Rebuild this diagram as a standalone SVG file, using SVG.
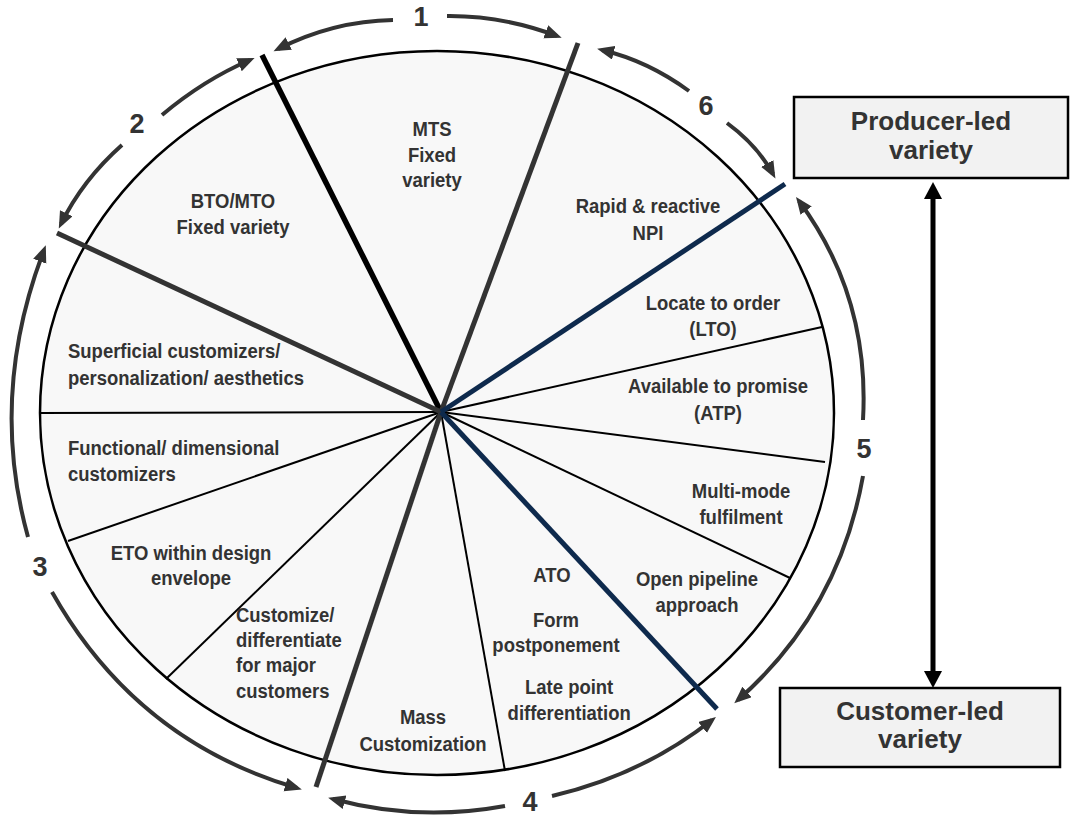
<svg xmlns="http://www.w3.org/2000/svg" width="1071" height="819" viewBox="0 0 1071 819">
<defs>
<style>
.t{font-family:"Liberation Sans",Arial,sans-serif;font-weight:bold;font-size:21px;fill:#333}
.m{text-anchor:middle}
.n{font-family:"Liberation Sans",Arial,sans-serif;font-weight:bold;font-size:27px;fill:#333;text-anchor:middle}
.b{font-family:"Liberation Sans",Arial,sans-serif;font-weight:bold;font-size:26px;fill:#333;text-anchor:middle}
.arc{fill:none;stroke:#333;stroke-width:4;marker-end:url(#ah)}
.thin{stroke:#000;stroke-width:2}
.thick{stroke:#333;stroke-width:5}
.black{stroke:#000;stroke-width:5.5}
.navy{stroke:#0e2a4d;stroke-width:5}
.box{fill:#f2f2f2;stroke:#000;stroke-width:2.5}
</style>
<marker id="ah" markerUnits="userSpaceOnUse" markerWidth="18" markerHeight="15" refX="12" refY="7" orient="auto"><path d="M0,0 L17,7 L0,14 z" fill="#333"/></marker>
<marker id="bh" markerUnits="userSpaceOnUse" markerWidth="18" markerHeight="18" refX="5" refY="9" orient="auto-start-reverse"><path d="M0,0 L17,9 L0,18 z" fill="#000"/></marker>
</defs>
<rect width="1071" height="819" fill="#fff"/>

<g id="wheel">
<ellipse cx="437" cy="413" rx="397" ry="362" fill="#f8f8f8" stroke="#000" stroke-width="2.5"/>
<line class="thin" x1="441" y1="412" x2="822" y2="327"/>
<line class="thin" x1="441" y1="412" x2="825" y2="462"/>
<line class="thin" x1="441" y1="412" x2="790" y2="578"/>
<line class="thin" x1="441" y1="412" x2="505" y2="771"/>
<line class="thin" x1="441" y1="412" x2="166" y2="679"/>
<line class="thin" x1="441" y1="412" x2="68" y2="541"/>
<line class="thin" x1="441" y1="412" x2="39" y2="413"/>
<line class="black" x1="441" y1="412" x2="262" y2="55"/>
<line class="thick" x1="441" y1="412" x2="578" y2="43"/>
<line class="thick" x1="441" y1="412" x2="57" y2="233"/>
<line class="thick" x1="441" y1="412" x2="316" y2="787"/>
<line class="navy" x1="441" y1="412" x2="785" y2="184"/>
<line class="navy" x1="441" y1="412" x2="717" y2="709"/>
</g>

<g id="seg-mts"><text class="t m" transform="translate(432 0) scale(0.88 1)"><tspan x="0" y="136">MTS</tspan><tspan x="0" y="162">Fixed</tspan><tspan x="0" y="187">variety</tspan></text></g>
<g id="seg-bto"><text class="t m" transform="translate(233 0) scale(0.88 1)"><tspan x="0" y="208">BTO/MTO</tspan><tspan x="0" y="234">Fixed variety</tspan></text></g>
<g id="seg-npi"><text class="t m" transform="translate(648 0) scale(0.88 1)"><tspan x="0" y="213">Rapid &amp; reactive</tspan><tspan x="0" y="240">NPI</tspan></text></g>
<g id="seg-lto"><text class="t m" transform="translate(713 0) scale(0.88 1)"><tspan x="0" y="310">Locate to order</tspan><tspan x="0" y="336">(LTO)</tspan></text></g>
<g id="seg-atp"><text class="t m" transform="translate(718 0) scale(0.88 1)"><tspan x="0" y="393">Available to promise</tspan><tspan x="0" y="420">(ATP)</tspan></text></g>
<g id="seg-multi"><text class="t m" transform="translate(741 0) scale(0.88 1)"><tspan x="0" y="498">Multi-mode</tspan><tspan x="0" y="524">fulfilment</tspan></text></g>
<g id="seg-open"><text class="t m" transform="translate(697 0) scale(0.88 1)"><tspan x="0" y="586">Open pipeline</tspan><tspan x="0" y="612">approach</tspan></text></g>
<g id="seg-ato"><text class="t m" transform="translate(552 0) scale(0.88 1)"><tspan x="0" y="582">ATO</tspan><tspan x="4.5" y="627">Form</tspan><tspan x="4.5" y="652">postponement</tspan><tspan x="19.5" y="694">Late point</tspan><tspan x="19.5" y="720">differentiation</tspan></text></g>
<g id="seg-mass"><text class="t m" transform="translate(423 0) scale(0.88 1)"><tspan x="0" y="724">Mass</tspan><tspan x="0" y="751">Customization</tspan></text></g>
<g id="seg-major"><text class="t" transform="translate(236 0) scale(0.88 1)"><tspan x="0" y="622">Customize/</tspan><tspan x="0" y="647">differentiate</tspan><tspan x="0" y="672">for major</tspan><tspan x="0" y="698">customers</tspan></text></g>
<g id="seg-eto"><text class="t m" transform="translate(191 0) scale(0.88 1)"><tspan x="0" y="560">ETO within design</tspan><tspan x="0" y="585">envelope</tspan></text></g>
<g id="seg-functional"><text class="t" transform="translate(68 0) scale(0.88 1)"><tspan x="0" y="455">Functional/ dimensional</tspan><tspan x="0" y="481">customizers</tspan></text></g>
<g id="seg-superficial"><text class="t" transform="translate(68 0) scale(0.88 1)"><tspan x="0" y="358">Superficial customizers/</tspan><tspan x="0" y="385">personalization/ aesthetics</tspan></text></g>

<g id="box-producer"><rect class="box" x="794" y="97" width="274" height="81"/><text class="b"><tspan x="931" y="130">Producer-led</tspan><tspan x="931" y="159">variety</tspan></text></g>
<g id="box-customer"><rect class="box" x="780" y="688" width="280" height="79"/><text class="b"><tspan x="920" y="720">Customer-led</tspan><tspan x="920" y="748">variety</tspan></text></g>

<g id="connectors">
<path class="arc" d="M393,20 Q333.5,21 278,49"/>
<path class="arc" d="M447,16 Q502.5,15.5 557,36"/>
<path class="arc" d="M162,115 Q203.5,80 250,60"/>
<path class="arc" d="M122,145 Q82.5,180 61,224"/>
<path class="arc" d="M28,537 Q-11.5,395 44,250"/>
<path class="arc" d="M52,592 Q136,741 297,788"/>
<path class="arc" d="M505,806 Q417.5,822 333,799"/>
<path class="arc" d="M552,796 Q642,775 712,720"/>
<path class="arc" d="M863,420 Q870,297 799,201"/>
<path class="arc" d="M863,476 Q839,611 738,700"/>
<path class="arc" d="M689,91 Q648,61 602,50"/>
<path class="arc" d="M727,123 Q757,145 773,174"/>
<path d="M933,194 L933,676" stroke="#000" stroke-width="5" fill="none" marker-start="url(#bh)" marker-end="url(#bh)"/>
<text class="n" x="421" y="26">1</text>
<text class="n" x="137" y="133">2</text>
<text class="n" x="40" y="576">3</text>
<text class="n" x="530" y="811">4</text>
<text class="n" x="864" y="458">5</text>
<text class="n" x="706" y="115">6</text>
</g>
</svg>
